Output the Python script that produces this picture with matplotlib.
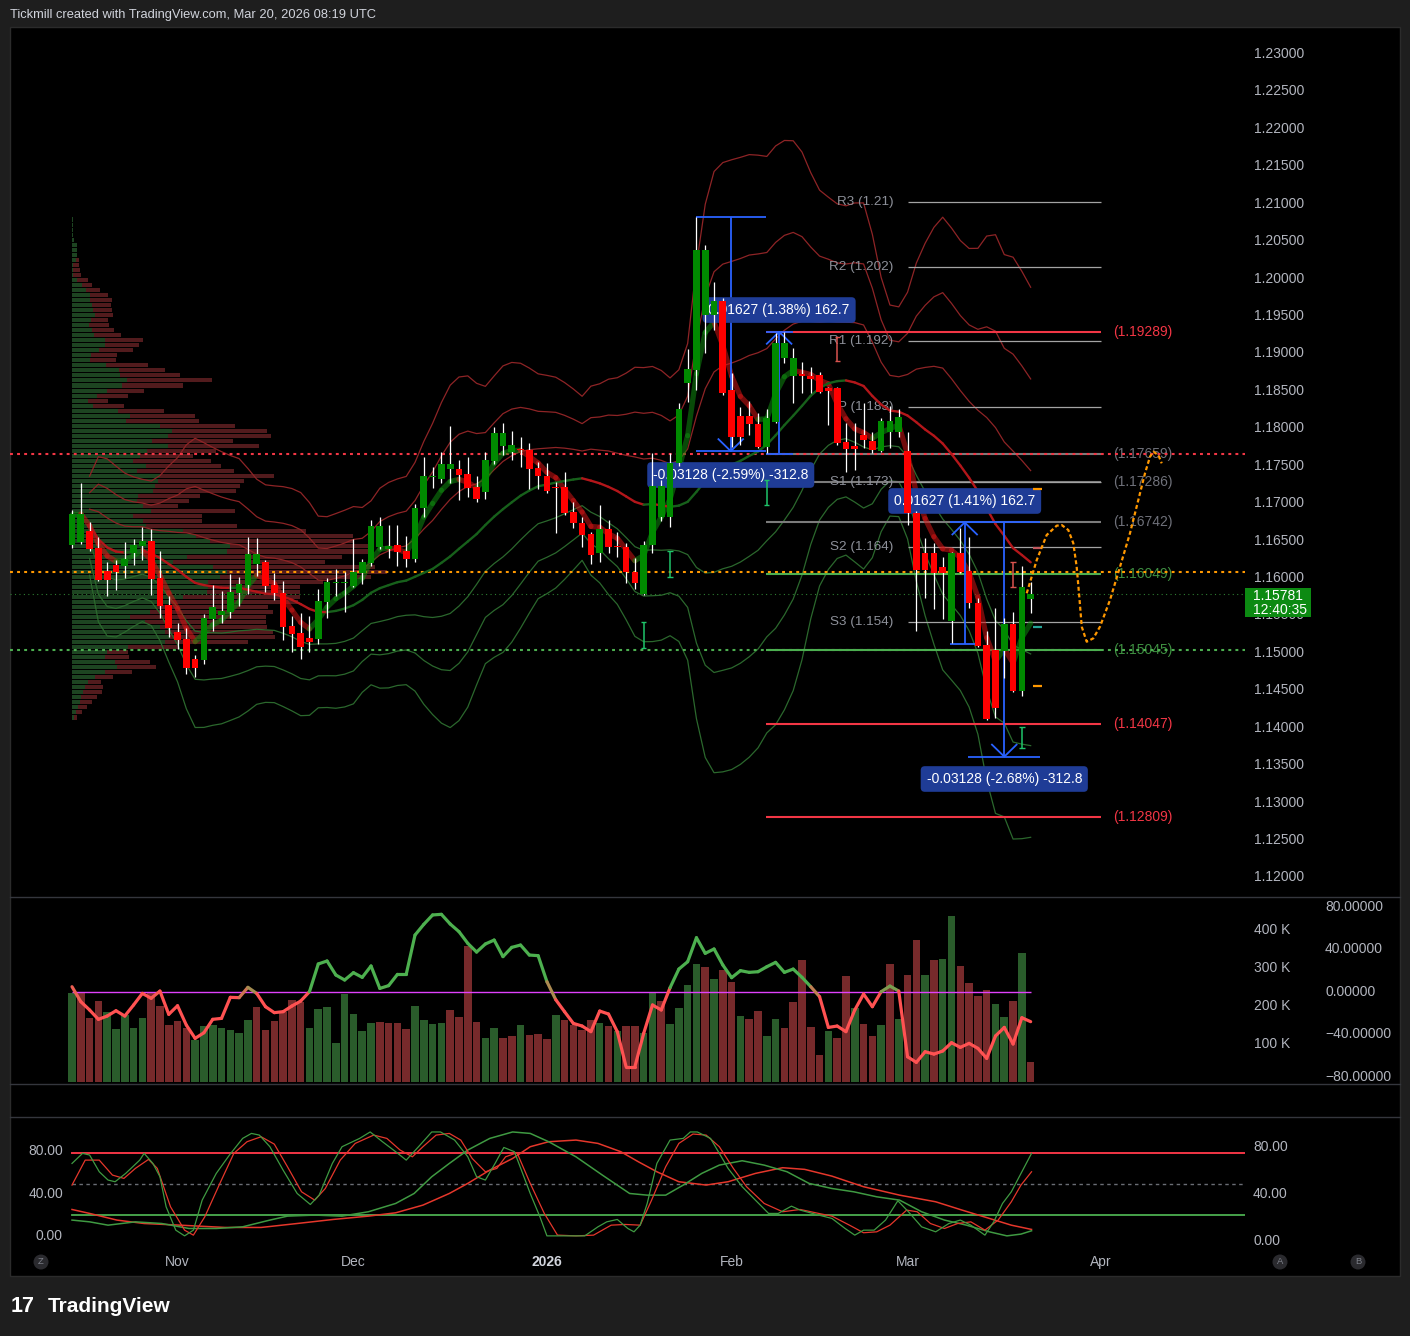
import numpy as np
import pandas as pd
import matplotlib
matplotlib.use("Agg")
import matplotlib.pyplot as plt
from matplotlib.collections import LineCollection
from matplotlib.patches import Rectangle, Ellipse
import matplotlib.transforms as mtrans

plt.rcParams['font.family'] = ['Liberation Sans', 'DejaVu Sans']

# ----------------------------------------------------------------- DATA
# daily EURUSD bars, Oct 16 2025 .. Mar 20 2026 (bar index 0..109)
opens = [1.16441, 1.16481, 1.16628, 1.16401, 1.16094, 1.16174, 1.16160, 1.16334, 1.16428, 1.16494,
         1.16000, 1.15639, 1.15279, 1.15185, 1.14918, 1.14904, 1.15452, 1.15506, 1.15546, 1.15800,
         1.15906, 1.16187, 1.16214, 1.15906, 1.15800, 1.15359, 1.15265, 1.15198, 1.15185, 1.15679,
         1.15933, 1.15933, 1.15893, 1.16067, 1.16200, 1.16414, 1.16387, 1.16441, 1.16361, 1.16254,
         1.16935, 1.17349, 1.17323, 1.17456, 1.17456, 1.17389, 1.17216, 1.17149, 1.17563, 1.17764,
         1.17683, 1.17723, 1.17710, 1.17470, 1.17363, 1.17216, 1.17216, 1.16882, 1.16735, 1.16588,
         1.16334, 1.16655, 1.16428, 1.16414, 1.16080, 1.15786, 1.16441, 1.16815, 1.16815, 1.17536,
         1.18605, 1.18779, 1.19514, 1.19514, 1.19701, 1.18512, 1.18164, 1.18164, 1.18057, 1.17750,
         1.18084, 1.18939, 1.18699, 1.18725, 1.18699, 1.18712, 1.18538, 1.18538, 1.17817, 1.17764,
         1.17910, 1.17830, 1.17697, 1.17951, 1.17951, 1.17697, 1.16868, 1.16334, 1.16334, 1.16147,
         1.15426, 1.16334, 1.16094, 1.15666, 1.15105, 1.15038, 1.15025, 1.15385, 1.14490, 1.15720]
highs = [1.16908, 1.17269, 1.16748, 1.16548, 1.16214, 1.16240, 1.16481, 1.16521, 1.16681, 1.16655,
         1.16361, 1.15760, 1.15399, 1.15332, 1.14971, 1.15519, 1.15906, 1.15826, 1.16053, 1.16013,
         1.16548, 1.16534, 1.16240, 1.16067, 1.15960, 1.15492, 1.15532, 1.15492, 1.15853, 1.16000,
         1.16120, 1.16080, 1.16521, 1.16254, 1.16775, 1.16815, 1.16708, 1.16708, 1.16561, 1.16989,
         1.17617, 1.17483, 1.17683, 1.18031, 1.17576, 1.17617, 1.17363, 1.17683, 1.18017, 1.18071,
         1.17964, 1.17884, 1.17804, 1.17550, 1.17536, 1.17283, 1.17416, 1.17015, 1.16815, 1.16615,
         1.16975, 1.16775, 1.16615, 1.16468, 1.16267, 1.16494, 1.17670, 1.17309, 1.17670, 1.18338,
         1.19059, 1.20823, 1.20449, 1.19955, 1.19741, 1.18739, 1.18285, 1.18365, 1.18204, 1.18258,
         1.19273, 1.19287, 1.19073, 1.18886, 1.18819, 1.18752, 1.18552, 1.18552, 1.18071, 1.18071,
         1.18338, 1.17951, 1.18138, 1.18298, 1.18258, 1.17951, 1.16900, 1.16534, 1.16468, 1.16281,
         1.16347, 1.16668, 1.16548, 1.15733, 1.15292, 1.15599, 1.15466, 1.15546, 1.16160, 1.15947]
lows = [1.16401, 1.16454, 1.16361, 1.15960, 1.15760, 1.15840, 1.16000, 1.16174, 1.16240, 1.15773,
        1.15466, 1.15212, 1.15051, 1.14717, 1.14677, 1.14851, 1.15292, 1.15399, 1.15466, 1.15626,
        1.15786, 1.16027, 1.15813, 1.15706, 1.15172, 1.15011, 1.14918, 1.15011, 1.15118, 1.15466,
        1.15760, 1.15546, 1.15880, 1.15920, 1.16160, 1.16387, 1.16267, 1.16160, 1.16147, 1.16214,
        1.16815, 1.17202, 1.17269, 1.17269, 1.17042, 1.17082, 1.17015, 1.17055, 1.17523, 1.17643,
        1.17576, 1.17483, 1.17189, 1.17189, 1.17136, 1.16601, 1.16842, 1.16668, 1.16414, 1.16187,
        1.16214, 1.16334, 1.16281, 1.15933, 1.15853, 1.15773, 1.16334, 1.16762, 1.16681, 1.17496,
        1.18351, 1.18512, 1.19006, 1.19313, 1.18445, 1.17750, 1.17777, 1.17910, 1.17737, 1.17670,
        1.18071, 1.18872, 1.18338, 1.18472, 1.18472, 1.18472, 1.18044, 1.17777, 1.17416, 1.17443,
        1.17737, 1.17670, 1.17683, 1.17737, 1.17884, 1.16708, 1.15292, 1.15733, 1.15586, 1.15452,
        1.15132, 1.16067, 1.15599, 1.15078, 1.14103, 1.14130, 1.14664, 1.14480, 1.14424, 1.15532]
closes = [1.16855, 1.16855, 1.16387, 1.15973, 1.15973, 1.16080, 1.16254, 1.16441, 1.16494, 1.15987,
          1.15626, 1.15332, 1.15172, 1.14798, 1.14798, 1.15466, 1.15613, 1.15559, 1.15813, 1.15920,
          1.16321, 1.16321, 1.15893, 1.15800, 1.15345, 1.15252, 1.15078, 1.15145, 1.15693, 1.15947,
          1.15947, 1.15947, 1.16080, 1.16214, 1.16695, 1.16695, 1.16428, 1.16347, 1.16254, 1.16935,
          1.17363, 1.17363, 1.17523, 1.17523, 1.17376, 1.17202, 1.17055, 1.17576, 1.17937, 1.17937,
          1.17777, 1.17710, 1.17456, 1.17363, 1.17162, 1.17202, 1.16868, 1.16735, 1.16574, 1.16307,
          1.16655, 1.16414, 1.16414, 1.16080, 1.15933, 1.16441, 1.17229, 1.17229, 1.17536, 1.18258,
          1.18792, 1.20382, 1.20382, 1.19701, 1.18472, 1.17884, 1.17884, 1.18057, 1.17750, 1.18138,
          1.19140, 1.19140, 1.18939, 1.18699, 1.18659, 1.18485, 1.18498, 1.17804, 1.17723, 1.17723,
          1.17844, 1.17710, 1.18098, 1.18098, 1.18151, 1.16868, 1.16107, 1.16107, 1.16067, 1.16067,
          1.16334, 1.16080, 1.15666, 1.15092, 1.14116, 1.14263, 1.15385, 1.14490, 1.15880, 1.15781]

# volume in thousands and its colour (G up / R down)
volume_k = [233, 235, 169, 213, 183, 139, 176, 143, 169, 233, 200, 150, 161, 143, 111, 147, 150, 143, 137, 128,
            163, 197, 137, 161, 183, 216, 210, 143, 192, 197, 102, 232, 179, 134, 154, 157, 154, 154, 139, 200,
            163, 153, 154, 189, 171, 358, 157, 115, 143, 117, 121, 150, 124, 126, 113, 176, 163, 150, 137, 163,
            154, 147, 134, 147, 147, 128, 235, 213, 153, 196, 255, 311, 302, 271, 295, 262, 174, 166, 187, 122,
            166, 143, 211, 321, 146, 71, 134, 117, 279, 196, 153, 121, 150, 311, 166, 282, 374, 282, 321, 324,
            437, 305, 260, 225, 242, 205, 171, 213, 339, 53]
volume_dir = ("GRRRGGGGGRRRRRGGGGGGGRRRRRRGGGGGGGGRRRRGGGGRRRRGGRRGRRRG"
              "RRRRGRGRRGGRGGGGRGRRGRRGGRRRRRGRRGRRGRGRRGRGGRRRRGGRGR")

# oscillator in the volume pane (right scale -80..80)
osc = [5.0, -9.1, -16.9, -25.7, -22.6, -17.6, -22.6, -12.2, -1.3, -5.9, 0.9, -21.0, -12.9, -31.1, -43.6,
       -38.3, -25.7, -24.8, -5.0, -5.3, 4.4, -1.3, -13.8, -19.4, -18.5, -13.2, -8.5, 0.3, 26.4, 29.2,
       16.0, 11.3, 18.2, 13.8, 24.5, 3.4, 6.0, 16.6, 16.6, 53.6, 63.7, 72.5, 73.1, 64.0, 56.8, 45.8,
       37.6, 45.2, 48.9, 33.3, 42.0, 44.2, 34.8, 34.2, 9.7, -7.2, -18.5, -29.5, -32.0, -37.3, -17.9,
       -20.7, -37.3, -70.3, -70.3, -38.9, -12.2, -16.9, 4.1, 21.6, 28.5, 51.1, 36.4, 40.5, 25.4, 13.5,
       20.1, 18.5, 19.1, 23.8, 27.9, 18.5, 21.6, 13.8, 5.0, -4.4, -33.3, -32.0, -37.3, -16.9, -1.9,
       -13.8, 0.3, 5.6, 0.9, -60.9, -66.2, -56.2, -58.4, -55.5, -47.7, -52.1, -48.3, -53.0, -62.4,
       -41.4, -33.3, -48.9, -24.2, -27.9]

# visible-range volume profile, 100 rows from top (high) to bottom (low)
profile_up = [1, 1, 1, 1, 2, 5, 5, 5, 4, 1, 1, 1, 5, 10, 14, 18, 18, 20, 21, 23, 19, 17, 20, 22, 33, 33, 27, 19, 18,
              34, 47, 48, 55, 50, 35, 25, 16, 21, 46, 58, 54, 88, 100, 96, 80, 96, 75, 68, 61, 74, 65, 88, 86,
              83, 81, 66, 65, 71, 79, 61, 71, 74, 111, 124, 138, 158, 155, 115, 101, 141, 155, 148, 136, 136,
              135, 111, 98, 85, 78, 58, 73, 88, 93, 98, 93, 56, 35, 33, 43, 45, 33, 23, 16, 13, 11, 9, 8, 6, 4, 2]
profile_down = [0, 0, 0, 0, 0, 0, 0, 0, 3, 6, 7, 8, 11, 10, 14, 18, 22, 19, 19, 18, 17, 20, 22, 27, 38, 34, 34, 26,
                26, 42, 46, 60, 85, 61, 37, 31, 20, 31, 46, 65, 73, 75, 95, 103, 81, 91, 69, 53, 78, 75, 97, 114,
                86, 85, 83, 62, 52, 35, 84, 69, 59, 91, 123, 157, 143, 144, 147, 155, 152, 162, 160, 151, 115, 92,
                93, 117, 128, 111, 123, 136, 121, 107, 108, 105, 83, 50, 21, 24, 35, 39, 27, 18, 13, 18, 19, 16,
                12, 9, 6, 3]

# stochastic pane: (bar, value) vertices
stoch_fast_k = [(0.0, 69.7), (1.2, 79.4), (2.0, 77.8), (3.1, 61.7), (4.1, 53.7), (4.9, 52.1), (6.1, 60.1),
                (7.7, 72.9), (8.2, 79.4), (9.2, 69.7), (10.0, 56.9), (10.7, 28.0), (11.8, 5.5), (12.8, 0.0),
                (13.8, 5.5), (14.8, 34.4), (16.4, 60.1), (17.9, 77.8), (19.4, 93.8), (20.4, 98.6), (21.3, 97.0),
                (22.5, 85.8), (24.0, 63.3), (25.6, 40.8), (27.1, 30.2), (28.1, 39.2), (29.6, 69.7), (30.7, 85.8),
                (32.7, 93.8), (33.9, 100.0), (35.3, 90.6), (36.8, 81.0), (38.0, 72.9), (39.4, 85.8), (40.9, 100.0),
                (41.9, 100.0), (43.5, 92.2), (45.0, 76.1), (46.0, 56.9), (47.0, 53.7), (48.1, 69.7), (49.1, 85.1),
                (50.3, 81.0), (52.1, 40.8), (53.2, 18.4), (54.0, 0.0), (55.2, 0.0), (58.3, 0.0), (59.8, 8.7),
                (60.8, 13.5), (62.0, 15.8), (63.2, 7.1), (63.9, 3.9), (64.6, 10.3), (65.4, 31.2), (66.5, 69.7),
                (68.0, 92.2), (69.5, 93.8), (70.3, 100.0), (71.1, 100.0), (72.6, 93.8), (73.6, 79.4), (74.6, 64.9),
                (76.2, 47.3), (77.7, 34.4), (79.2, 21.6), (80.3, 21.6), (81.8, 28.6), (82.8, 24.8), (84.9, 20.0),
                (86.4, 16.8), (87.9, 7.1), (89.0, 0.7), (90.0, 5.5), (91.2, 5.5), (92.5, 15.2), (93.9, 33.8),
                (95.1, 23.2), (96.6, 8.7), (98.2, 3.9), (99.7, 11.9), (101.0, 15.2), (102.2, 10.3), (103.8, 0.7),
                (104.8, 13.5), (105.8, 31.2), (106.8, 42.4), (107.9, 60.1), (109.1, 79.4)]
stoch_fast_d = [(0.0, 48.9), (1.5, 72.9), (3.1, 72.9), (4.6, 58.5), (5.9, 55.3), (7.2, 64.9), (8.7, 73.6),
                (9.7, 64.9), (11.2, 28.0), (12.8, 5.5), (13.8, 0.7), (15.1, 18.4), (16.9, 52.1), (18.4, 79.4),
                (19.9, 90.6), (21.5, 95.4), (23.0, 88.3), (24.5, 66.5), (26.1, 42.4), (27.6, 34.4), (28.8, 45.6),
                (30.5, 72.9), (32.2, 89.0), (34.3, 97.0), (35.8, 93.8), (37.3, 82.6), (38.7, 76.1), (39.9, 85.8),
                (41.4, 97.0), (42.9, 98.6), (44.2, 92.2), (45.5, 74.5), (47.0, 61.7), (48.3, 64.9), (49.3, 76.1),
                (50.6, 80.0), (52.1, 50.5), (53.7, 21.6), (55.2, 0.7), (57.3, 0.0), (59.3, 0.7), (61.3, 10.3),
                (62.9, 11.0), (64.6, 10.3), (65.9, 34.4), (67.5, 66.5), (69.0, 89.0), (70.6, 98.0), (72.1, 97.0),
                (73.6, 85.8), (75.2, 64.9), (76.7, 47.3), (78.7, 31.2), (80.8, 23.2), (82.8, 25.4), (84.9, 21.6),
                (86.4, 19.0), (88.4, 10.3), (90.0, 3.0), (91.5, 3.9), (93.0, 10.3), (94.9, 24.8), (96.1, 23.2),
                (97.6, 11.9), (99.2, 7.1), (100.7, 11.9), (102.2, 13.5), (103.8, 5.5), (105.3, 15.2), (106.8, 32.8),
                (107.9, 48.9), (109.1, 61.7)]
stoch_slow_k = [(0, 15.2), (2.0, 13.5), (4.1, 10.3), (7.2, 13.5), (10.2, 11.9), (13.3, 7.1), (16.4, 7.1),
                (19.4, 8.7), (22.5, 15.2), (24.5, 19.0), (27.6, 20.0), (30.7, 19.0), (33.7, 23.2), (36.8, 31.2),
                (38.9, 40.8), (40.9, 56.9), (42.9, 69.7), (45.0, 82.6), (47.5, 93.8), (50.1, 100.0), (52.1, 98.6),
                (54.2, 90.6), (57.3, 76.1), (60.3, 58.5), (63.4, 40.8), (65.4, 39.2), (67.5, 39.2), (69.5, 48.9),
                (71.6, 60.1), (73.6, 68.1), (76.2, 72.3), (78.7, 68.1), (81.3, 61.7), (83.8, 50.5), (86.4, 45.6),
                (88.9, 42.4), (91.5, 37.6), (94.1, 34.4), (96.6, 23.2), (99.2, 15.2), (101.7, 10.3), (104.3, 3.9),
                (106.3, 0.0), (107.9, 1.7), (109.1, 4.9)]
stoch_slow_d = [(0, 25.4), (2.0, 21.6), (5.1, 15.2), (8.2, 11.9), (12.3, 10.3), (17.4, 8.1), (21.5, 8.1),
                (25.6, 11.9), (29.7, 15.8), (33.7, 19.0), (36.8, 22.2), (39.9, 29.6), (42.9, 40.8), (45.0, 50.5),
                (47.5, 63.3), (50.1, 74.5), (52.1, 85.8), (54.2, 90.6), (57.3, 92.2), (59.8, 89.0), (62.4, 81.0),
                (64.4, 71.3), (66.5, 61.7), (69.0, 52.1), (72.1, 48.9), (74.6, 52.1), (77.7, 60.1), (80.8, 65.6),
                (83.3, 64.0), (86.4, 57.5), (90.0, 47.3), (94.1, 39.2), (98.2, 32.8), (101.2, 24.8), (104.3, 16.8),
                (106.8, 10.3), (109.1, 6.2)]

# horizontal levels drawn from bar 79 to bar 117
level_prices = [1.19289, 1.17659, 1.17286, 1.16742, 1.16049, 1.15045, 1.14047, 1.12809]
level_kinds = ['red', 'gray', 'gray', 'gray', 'green', 'green', 'red', 'red']
dotted_prices = [1.17659, 1.16084, 1.15045]
dotted_kinds = ['red', 'orange', 'green']
last_price = 1.15781
last_time = '12:40:35'

# monthly pivots (March)
pivot_names = ['R3', 'R2', 'R1', 'P', 'S1', 'S2', 'S3']
pivot_values = [1.2102, 1.2016, 1.1917, 1.1829, 1.1728, 1.1641, 1.1541]
pivot_texts = ['1.21', '1.202', '1.192', '1.183', '1.173', '1.164', '1.154']

# price-range measurements: (bar from, bar to, bar of arrow, price from, price to, label, label price)
measures = [(71.0, 78.9, 74.9, 1.20823, 1.17695, '-0.03128 (-2.59%) -312.8', 1.17376),
            (78.9, 82.0, 80.4, 1.17662, 1.19289, '0.01627 (1.38%) 162.7', 1.19580),
            (99.8, 103.2, 101.5, 1.15115, 1.16742, '0.01627 (1.41%) 162.7', 1.17029),
            (101.9, 110.1, 106.0, 1.16742, 1.13614, '-0.03128 (-2.68%) -312.8', 1.13315)]

# hand-drawn projection path (bar, price)
path_bars = [108.55, 109.69, 110.82, 111.96, 112.53, 113.28, 113.85, 114.23, 114.53, 114.81, 115.37,
             116.12, 116.88, 118.02, 119.16, 120.29, 121.24, 122.0, 122.57, 122.95, 123.52, 123.9]
path_prices = [1.15796, 1.16240, 1.16574, 1.16699, 1.16708, 1.16641, 1.16464, 1.16151, 1.15750, 1.15349,
               1.15149, 1.15194, 1.15349, 1.15706, 1.16151, 1.16597, 1.17042, 1.17399, 1.17621, 1.17687,
               1.17643, 1.17532]

# small signal markers (bar, price top, price bottom)
marks_up = [(65, 1.15412, 1.15065), (68, 1.16361, 1.16013), (79, 1.17309, 1.16975), (108, 1.14009, 1.13729)]
marks_dn = [(87, 1.19220, 1.18899), (107, 1.16214, 1.15880)]
end_ticks = [1.14557, 1.15350, 1.16400, 1.17190]
end_tick_colors = ['#ff9800', '#26a69a', '#c2585e', '#ff9800']

month_idx = [12, 32, 54, 75, 95, 117]
month_lbl = ['Nov', 'Dec', '2026', 'Feb', 'Mar', 'Apr']

# ----------------------------------------------------------------- LAYOUT
W, H = 1410, 1336
X0, X1 = -7.05, 133.37          # bar range of the pane width
def fx(p): return p / W
def fy(p): return 1 - p / H

fig = plt.figure(figsize=(W / 100, H / 100), dpi=100, facecolor='#1e1e1e')
fig.patches.append(Rectangle((fx(10), fy(1276)), fx(1400) - fx(10), (1276 - 27) / H,
                             transform=fig.transFigure, facecolor='#000000', edgecolor='#2b2b2b',
                             lw=1, zorder=-10))

def pane(top, bottom):
    a = fig.add_axes([fx(10), fy(bottom), fx(1245) - fx(10), (bottom - top) / H])
    a.set_facecolor('none')
    a.set_axis_off()
    a.set_xlim(X0, X1)
    return a

ax = pane(27, 896)
ax.set_ylim(1.11752, 1.23361)
axv = pane(897, 1083)
axv.set_ylim(-2.6, 486.8)
axo = pane(897, 1083)
axo.set_ylim(-85.6, 89.4)
axs = pane(1117, 1250)
axs.set_ylim(-13.6, 114.4)

for yy in (896.5, 1083.5, 1117):
    ln = plt.Line2D([fx(10), fx(1400)], [fy(yy), fy(yy)], color='#34363d', lw=1,
                    transform=fig.transFigure, zorder=-5)
    fig.add_artist(ln)

TXT = '#b2b5be'
FS = 10

n = len(closes)
idx = np.arange(n)
o = np.array(opens); h = np.array(highs); l = np.array(lows); c = np.array(closes)

# ----------------------------------------------------------------- volume profile
edges = np.linspace(l.min(), h.max(), len(profile_up) + 1)
centers = ((edges[:-1] + edges[1:]) / 2)[::-1]
row_h = (edges[1] - edges[0]) * 0.8
pu = np.array(profile_up, float); pdn = np.array(profile_down, float)
scale = 35.8 / (pu + pdn).max()
ax.barh(centers, pu * scale, left=0, height=row_h, color='#1d4421', zorder=1)
ax.barh(centers, pdn * scale, left=pu * scale, height=row_h, color='#521b1d', zorder=1)

# ----------------------------------------------------------------- indicators
s = pd.Series(c)
basis = s.rolling(20, min_periods=3).mean().values
sd = s.rolling(20, min_periods=3).std(ddof=0).values
fast = s.ewm(span=5, adjust=False).mean().values

def slope_line(a, x, y, up, dn, lw, alpha, z):
    ok = ~np.isnan(y)
    x, y = x[ok], y[ok]
    pts = np.column_stack([x, y])
    segs = np.stack([pts[:-1], pts[1:]], axis=1)
    cols = [up if y[i + 1] >= y[i] else dn for i in range(len(y) - 1)]
    a.add_collection(LineCollection(segs, colors=cols, linewidths=lw, alpha=alpha, zorder=z,
                                    capstyle='round', joinstyle='round'))

for k in (1, 2, 3):
    ax.plot(idx, basis + k * sd, color='#8e2426', lw=0.9, zorder=2)
    ax.plot(idx, basis - k * sd, color='#2b682d', lw=0.9, zorder=2)

# level lines
lvl_col = {'red': '#f23645', 'gray': '#7b7b7b', 'green': '#4caf50'}
lbl_col = {'red': '#f23645', 'gray': '#6f717a', 'green': '#3e8f41'}
for p, kind in zip(level_prices, level_kinds):
    ax.hlines(p, 78.9, 117, color=lvl_col[kind], lw=1.5, zorder=2.5)
    ax.text(118.4, p, '(%.5f)' % p, color=lbl_col[kind], fontsize=FS, va='center', ha='left', zorder=2.6)

dot_col = {'red': '#f23645', 'orange': '#ff9800', 'green': '#4caf50'}
for p, kind in zip(dotted_prices, dotted_kinds):
    ax.plot([X0, X1], [p, p], color=dot_col[kind], lw=1.5, ls=(0, (1.4, 2.0)), zorder=2.7)
ax.plot([X0, X1], [last_price, last_price], color='#2e7d32', lw=0.8, ls=(0, (1, 3)), zorder=2.7)

# pivots
for name, v, t in zip(pivot_names, pivot_values, pivot_texts):
    ax.hlines(v, 95, 117, color='#a3a3a3', lw=0.9, zorder=2.5)
    ax.text(93.4, v, '%s (%s)' % (name, t), color='#8d9099', fontsize=FS - 0.3, ha='right', va='center',
            zorder=2.6)

slope_line(ax, idx.astype(float), fast, '#108a10', '#d01515', 3.8, 0.55, 3)
slope_line(ax, idx.astype(float), basis, '#17601b', '#b3161a', 1.7, 1.0, 3.2)

# measurements
MC = '#2962ff'
for x0, x1, xv, pf, pt, txt, tp in measures:
    ax.hlines([pf, pt], x0, x1, colors=MC, lw=1.3, zorder=3.5)
    ax.vlines(xv, min(pf, pt), max(pf, pt), colors=MC, lw=1.3, zorder=3.5)
    d = 0.0016 if pt > pf else -0.0016
    ax.plot([xv - 1.4, xv, xv + 1.4], [pt - d, pt, pt - d], color=MC, lw=1.3, zorder=3.5)
    ax.text(xv, tp, txt, ha='center', va='center', color='white', fontsize=FS, zorder=3.6,
            bbox=dict(boxstyle='round,pad=0.42,rounding_size=0.3', fc='#1f3c96', ec='none'))

# markers
for b, pt_, pb in marks_up:
    ax.vlines(b, pb, pt_, color='#1fc46a', lw=1.1, zorder=4)
    ax.hlines([pb, pt_], b - 0.3, b + 0.3, color='#1fc46a', lw=1.0, zorder=4)
for b, pt_, pb in marks_dn:
    ax.vlines(b, pb, pt_, color='#d9534f', lw=1.1, zorder=4)
    ax.hlines([pb, pt_], b - 0.3, b + 0.3, color='#d9534f', lw=1.0, zorder=4)
for p, col in zip(end_ticks, end_tick_colors):
    ax.hlines(p, n - 0.7, n + 0.3, color=col, lw=1.6, zorder=4)

# candles
ax.vlines(idx, l, h, color='#ffffff', lw=0.9, zorder=5)
for i in range(n):
    up = c[i] >= o[i]
    bot = min(o[i], c[i])
    hh = max(abs(c[i] - o[i]), 0.00014)
    ax.add_patch(Rectangle((i - 0.38, bot), 0.76, hh, facecolor='#008a00' if up else '#ff0000',
                           edgecolor='none', zorder=6))

# projection path
ax.plot(path_bars, path_prices, color='#ff9800', lw=1.6, ls=(0, (1.8, 1.2)), zorder=7)

# price scale
tr_r = mtrans.blended_transform_factory(fig.transFigure, ax.transData)
for p in np.arange(1.12, 1.23001, 0.005):
    ax.text(fx(1254), p, '%.5f' % p, transform=tr_r, color=TXT, fontsize=FS, va='center', ha='left')
fig.patches.append(Rectangle((fx(1245), fy(617)), fx(1311) - fx(1245), (617 - 588) / H,
                             transform=fig.transFigure, facecolor='#0c8a12', edgecolor='none', zorder=10))
fig.text(fx(1253), fy(596), '%.5f' % last_price, color='white', fontsize=FS, va='center', zorder=11)
fig.text(fx(1253), fy(609.5), last_time, color='white', fontsize=FS, va='center', zorder=11)

# ----------------------------------------------------------------- volume pane
vcols = ['#2a5c2b' if d == 'G' else '#772a2b' for d in volume_dir]
axv.bar(idx, volume_k, width=0.86, color=vcols, zorder=1)
axo.hlines(0, 0, n - 1, color='#e040fb', lw=1.0, zorder=2)
ov = np.array(osc)
red = np.array([1.0, 0.32, 0.32]); tan = np.array([0.70, 0.53, 0.32]); grn = np.array([0.30, 0.69, 0.31])
segs, cols = [], []
for i in range(n - 1):
    segs.append([(i, ov[i]), (i + 1, ov[i + 1])])
    t = np.clip(((ov[i] + ov[i + 1]) / 2 + 3) / 8, 0, 1)
    col = red + (tan - red) * (t * 2) if t < 0.5 else tan + (grn - tan) * ((t - 0.5) * 2)
    cols.append(tuple(col))
axo.add_collection(LineCollection(segs, colors=cols, linewidths=2.3, zorder=3, capstyle='round'))

for v, yy in zip(['80.00000', '40.00000', '0.00000', '\u221240.00000', '\u221280.00000'],
                 [907, 949, 992, 1034, 1077]):
    fig.text(fx(1325), fy(yy), v, color=TXT, fontsize=FS, va='center', ha='left')
for v, yy in zip(['400 K', '300 K', '200 K', '100 K'], [930, 968, 1006, 1044]):
    fig.text(fx(1254), fy(yy), v, color=TXT, fontsize=FS, va='center', ha='left')

# ----------------------------------------------------------------- stochastic pane
axs.plot([0, X1], [80, 80], color='#f23645', lw=1.4, zorder=1)
axs.plot([0, X1], [20, 20], color='#4caf50', lw=1.3, zorder=1)
axs.plot([0, X1], [50, 50], color='#6a6d75', lw=1.0, ls=(0, (2.5, 2.5)), zorder=1)
for pts, col, lw in [(stoch_slow_d, '#e5372b', 1.1), (stoch_slow_k, '#3f9a42', 1.1),
                     (stoch_fast_d, '#e5372b', 0.9), (stoch_fast_k, '#3f9a42', 0.9)]:
    xs, ys = zip(*pts)
    axs.plot(xs, ys, color=col, lw=lw, zorder=2)
for v, yy in zip(['80.00', '40.00', '0.00'], [1151, 1194, 1236]):
    fig.text(fx(63), fy(yy), v, color=TXT, fontsize=FS, va='center', ha='right')
for v, yy in zip(['80.00', '40.00', '0.00'], [1147, 1194, 1241]):
    fig.text(fx(1253), fy(yy), v, color=TXT, fontsize=FS, va='center', ha='left')

# time axis
tr_t = mtrans.blended_transform_factory(axs.transData, fig.transFigure)
for b, lab in zip(month_idx, month_lbl):
    axs.text(b, fy(1262), lab, transform=tr_t, color='#d1d4dc' if lab == '2026' else TXT,
             fontsize=FS, ha='center', va='center', fontweight='bold' if lab == '2026' else 'normal')
for xx, lab in [(41, 'Z'), (1280, 'A'), (1358, 'B')]:
    fig.patches.append(Ellipse((fx(xx), fy(1262)), 15 / W, 15 / H, transform=fig.transFigure,
                               facecolor='#2a2a2e', edgecolor='none', zorder=5))
    fig.text(fx(xx), fy(1262), lab, color='#7d8089', fontsize=6.8, ha='center', va='center', zorder=6)

# header / footer
fig.text(fx(10), fy(15), 'Tickmill created with TradingView.com, Mar 20, 2026 08:19 UTC',
         color='#d1d4dc', fontsize=9.3, va='center', ha='left')
fig.text(fx(11), fy(1306), '17', color='#ffffff', fontsize=15.5, fontweight='heavy', va='center', ha='left')
fig.text(fx(48), fy(1306), 'TradingView', color='#ffffff', fontsize=15, fontweight='bold',
         va='center', ha='left')

fig.savefig('out.png', dpi=100, facecolor=fig.get_facecolor())
